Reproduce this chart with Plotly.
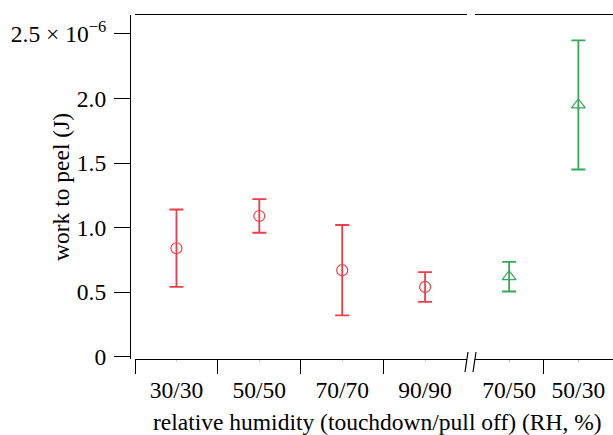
import plotly.graph_objects as go

# ---- data ----
left_categories = ["30/30", "50/50", "70/70", "90/90"]
left_values = [0.84e-6, 1.09e-6, 0.67e-6, 0.54e-6]
left_errors = [0.30e-6, 0.13e-6, 0.35e-6, 0.115e-6]

right_categories = ["70/50", "50/30"]
right_values = [0.62e-6, 1.95e-6]
right_errors = [0.115e-6, 0.50e-6]

y_tickvals = [0, 0.5e-6, 1.0e-6, 1.5e-6, 2.0e-6, 2.5e-6]
y_ticktext = ["0", "0.5", "1.0", "1.5", "2.0", "2.5 × 10<sup>−6</sup>"]

RED = "rgb(240,62,72)"
GREEN = "rgb(52,168,88)"
FONT = "Liberation Serif"
FS = 23.5

W, H = 613, 435
ML, MR, MT, MB = 130, 0, 15, 76
PW = W - ML - MR
PH = H - MT - MB


def px(x):
    return (x - ML) / PW


def py(y):
    return (H - MB - y) / PH


fig = go.Figure()

fig.add_trace(go.Scatter(
    x=list(range(1, len(left_categories) + 1)), y=left_values,
    mode="markers",
    marker=dict(symbol="circle-open", size=11, color=RED, line=dict(width=1.2)),
    error_y=dict(type="data", array=left_errors, color=RED, thickness=1.8, width=7),
    xaxis="x", yaxis="y", showlegend=False,
))
fig.add_trace(go.Scatter(
    x=list(range(1, len(right_categories) + 1)), y=right_values,
    mode="markers",
    marker=dict(symbol="triangle-up-open", size=12, color=GREEN, line=dict(width=1.2)),
    error_y=dict(type="data", array=right_errors, color=GREEN, thickness=1.8, width=7),
    xaxis="x2", yaxis="y", showlegend=False,
))

common_x = dict(
    showline=True, linecolor="black", linewidth=1.2, mirror=True,
    showgrid=False, zeroline=False, ticks="outside", ticklen=2,
    tickcolor="#cccccc", tickwidth=1,
    tickfont=dict(family=FONT, size=FS, color="black"),
    ticklabelstandoff=8,
    anchor="y",
)

fig.update_layout(
    width=W, height=H,
    margin=dict(l=ML, r=MR, t=MT, b=MB),
    paper_bgcolor="white", plot_bgcolor="white",
    xaxis=dict(
        domain=[px(135), px(466.5)], range=[0.5, 4.5],
        tickmode="array", tickvals=[1, 2, 3, 4], ticktext=left_categories,
        minor=dict(tickmode="array", tickvals=[0.5, 1.5, 2.5, 3.5],
                   ticks="outside", ticklen=14, tickcolor="black", tickwidth=1.2),
        **common_x,
    ),
    xaxis2=dict(
        domain=[px(474.5), 1.0], range=[0.5, 2.5],
        tickmode="array", tickvals=[1, 2], ticktext=right_categories,
        minor=dict(tickmode="array", tickvals=[1.5],
                   ticks="outside", ticklen=14, tickcolor="black", tickwidth=1.2),
        **common_x,
    ),
    yaxis=dict(
        domain=[0, 1], range=[-0.018e-6, 2.647e-6],
        anchor="free", position=0,
        showline=True, linecolor="black", linewidth=1.2,
        showgrid=False, zeroline=False,
        ticks="outside", ticklen=16, tickcolor="black", tickwidth=1.2,
        tickmode="array", tickvals=y_tickvals, ticktext=y_ticktext,
        tickfont=dict(family=FONT, size=FS, color="black"),
        ticklabelstandoff=3,
    ),
    annotations=[
        dict(
            text="relative humidity (touchdown/pull off) (RH, %)",
            xref="paper", yref="paper", x=px(377.5), y=py(422),
            xanchor="center", yanchor="middle", showarrow=False,
            font=dict(family=FONT, size=FS, color="black"),
        ),
        dict(
            text="work to peel (J)", textangle=-90,
            xref="paper", yref="paper", x=px(61), y=py(187),
            xanchor="center", yanchor="middle", showarrow=False,
            font=dict(family=FONT, size=FS, color="black"),
        ),
    ],
    shapes=[
        dict(type="line", xref="paper", yref="paper",
             x0=px(465), x1=px(468), y0=py(372), y1=py(352),
             line=dict(color="black", width=1.2)),
        dict(type="line", xref="paper", yref="paper",
             x0=px(473), x1=px(476), y0=py(372), y1=py(352),
             line=dict(color="black", width=1.2)),
    ],
)

fig.write_html("out.html")
